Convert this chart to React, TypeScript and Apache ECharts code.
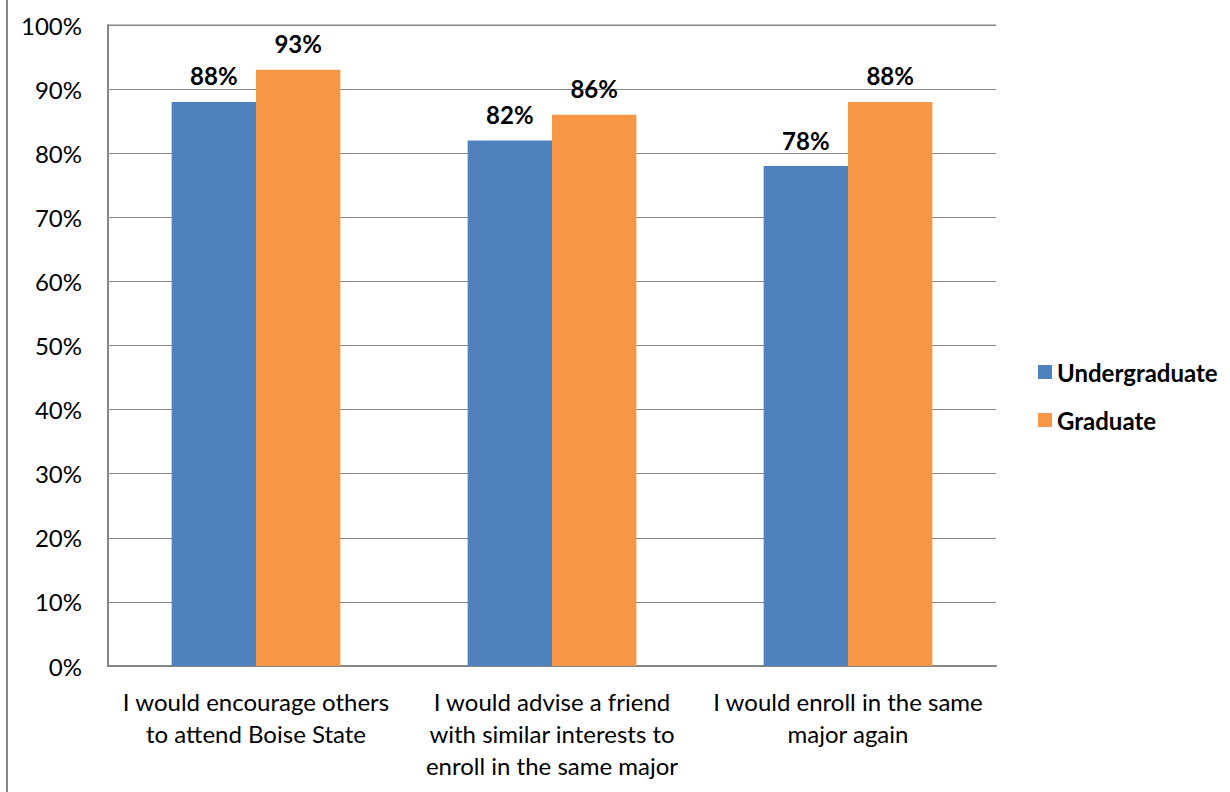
import React, { useEffect, useRef } from "react";
import * as echarts from "echarts";

const categories = [
  "I would encourage others\nto attend Boise State",
  "I would advise a friend\nwith similar interests to\nenroll in the same major",
  "I would enroll in the same\nmajor again",
];
const undergraduate = [88, 82, 78];
const graduate = [93, 86, 88];
const seriesNames = ["Undergraduate", "Graduate"];

const FONT = "Lato, sans-serif";

export default function App() {
  const ref = useRef<HTMLDivElement>(null);
  useEffect(() => {
    document.body.style.margin = "0";
    const chart = echarts.init(ref.current!, undefined, { renderer: "svg" });
    const label = {
      show: true,
      position: "top" as const,
      distance: 14,
      formatter: "{c}%",
      color: "#000",
      fontWeight: "bold" as const,
      fontSize: 24,
      fontFamily: FONT,
    };
    chart.setOption({
      animation: false,
      backgroundColor: "#fff",
      textStyle: { fontFamily: FONT },
      grid: { left: 108, right: 234, top: 25, bottom: 126, containLabel: false },
      legend: {
        orient: "vertical",
        left: 1033,
        top: 355,
        itemWidth: 14,
        itemHeight: 14,
        itemGap: 24,
        icon: "rect",
        textStyle: { fontSize: 24, fontWeight: "bold", color: "#000", fontFamily: FONT },
        data: seriesNames,
      },
      xAxis: {
        type: "category",
        data: categories,
        axisLine: { lineStyle: { color: "#868686", width: 2 } },
        axisTick: { show: false },
        axisLabel: {
          color: "#000",
          fontSize: 24,
          lineHeight: 32,
          margin: 19,
          interval: 0,
          fontFamily: FONT,
        },
      },
      yAxis: {
        type: "value",
        min: 0,
        max: 100,
        interval: 10,
        axisLine: { show: true, lineStyle: { color: "#868686", width: 2 } },
        axisTick: { show: false },
        splitLine: { lineStyle: { color: "#868686", width: 1 } },
        axisLabel: {
          color: "#000",
          fontSize: 24,
          margin: 26,
          formatter: "{value}%",
          fontFamily: FONT,
        },
      },
      series: [
        {
          name: seriesNames[0],
          type: "bar",
          data: undergraduate,
          barGap: "0%",
          barCategoryGap: "43%",
          itemStyle: { color: "#4F81BD" },
          label,
        },
        {
          name: seriesNames[1],
          type: "bar",
          data: graduate,
          barGap: "0%",
          barCategoryGap: "43%",
          itemStyle: { color: "#F79646" },
          label,
        },
      ],
      graphic: [
        {
          type: "line",
          shape: { x1: 7, y1: 0, x2: 7, y2: 792 },
          style: { stroke: "#868686", lineWidth: 2 },
        },
        {
          type: "line",
          shape: { x1: 108, y1: 25, x2: 996, y2: 25 },
          style: { stroke: "#868686", lineWidth: 1 },
        },
      ],
    });
    return () => chart.dispose();
  }, []);
  return <div ref={ref} style={{ width: 1230, height: 792 }} />;
}
